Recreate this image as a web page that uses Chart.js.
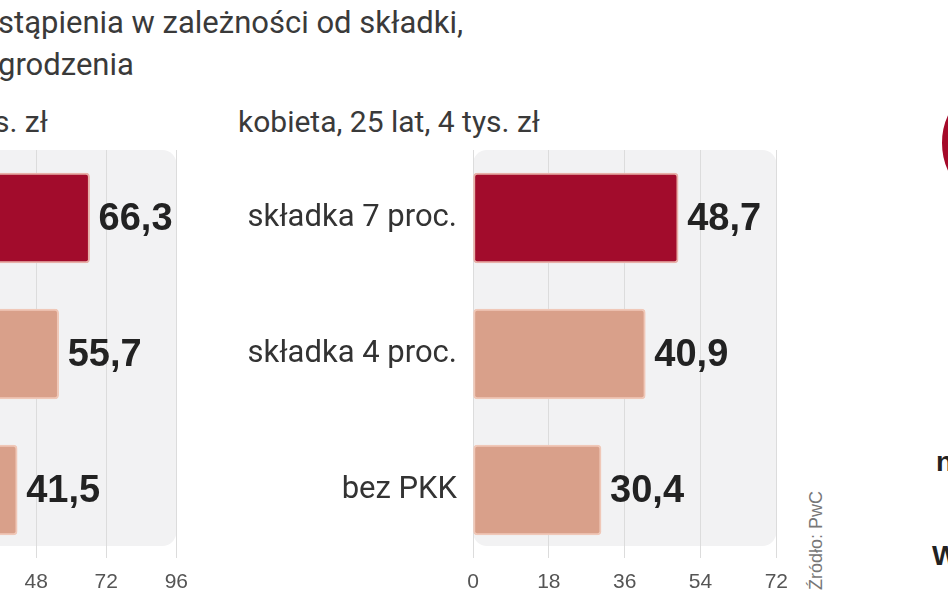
<!DOCTYPE html>
<html><head><meta charset="utf-8">
<script src="https://cdn.jsdelivr.net/npm/chart.js@4"></script>
<style>
body{margin:0;width:948px;height:593px;overflow:hidden;background:#fff;position:relative;font-family:"Liberation Sans Narrow",Roboto,sans-serif;color:#333}
.t{position:absolute;white-space:nowrap;font-size:30px;color:#3a3a3a}
canvas{position:absolute}
</style></head><body>
<div class="t" style="left:-2px;top:4px;font-size:31px">stąpienia w zależności od składki,</div>
<div class="t" style="left:-2px;top:46px;font-size:31px">grodzenia</div>
<div class="t" style="left:-6px;top:104px">s. zł</div>
<div class="t" style="left:238px;top:104px">kobieta, 25 lat, 4 tys. zł</div>
<div style="position:absolute;left:942px;top:78px;width:130px;height:130px;border-radius:50%;border:7px solid #a50a2a;box-sizing:border-box"></div>
<div class="t" style="left:936px;top:446px;font-weight:bold;font-family:'Liberation Sans',sans-serif;font-size:28px;color:#222">n</div>
<div class="t" style="left:932px;top:540px;font-weight:bold;font-family:'Liberation Sans',sans-serif;font-size:28px;color:#222">W</div>
<div class="t" style="left:806px;top:590px;transform:rotate(-90deg);transform-origin:0 0;font-family:'Liberation Sans',sans-serif;font-size:18px;color:#777">Źródło: PwC</div>
<div style="position:absolute;left:-300px;top:0;width:500px;height:593px"><canvas id="c1"></canvas></div>
<div style="position:absolute;left:200px;top:0;width:600px;height:593px"><canvas id="c2"></canvas></div>
<script>
const categories=["składka 7 proc.","składka 4 proc.","bez PKK"];
const valuesLeft=[66.3,55.7,41.5];
const valuesRight=[48.7,40.9,30.4];
const ticksLeft=[0,24,48,72,96];
const ticksRight=[0,18,36,54,72];
const colors=["#a20c2c","#d9a08a","#d9a08a"];
const borders=["#e8b0a8","#f0c8b8","#f0c8b8"];

const boxPlugin={id:'box',beforeDraw(ch){const a=ch.chartArea,c=ch.ctx;c.save();c.fillStyle='#f2f2f3';c.beginPath();c.roundRect(a.left,a.top,a.right-a.left,a.bottom-a.top-12,14);c.fill();c.restore();}};
const valPlugin={id:'vals',afterDatasetsDraw(ch){const c=ch.ctx;const ds=ch.data.datasets[0];ch.getDatasetMeta(0).data.forEach((b,i)=>{c.save();c.font='bold 38px "Liberation Sans Narrow", sans-serif';c.fillStyle='#222';c.textBaseline='middle';c.fillText(ds.data[i].toFixed(1).replace('.',','),b.x+9,b.y+2);c.restore();});}};

function make(id,vals,ticks,max,leftW,showY,padL,padR){
 new Chart(document.getElementById(id),{type:'bar',
  data:{labels:categories,datasets:[{data:vals,backgroundColor:colors,borderColor:borders,borderWidth:2,borderRadius:4,borderSkipped:false,barThickness:90}]},
  options:{indexAxis:'y',responsive:true,maintainAspectRatio:false,animation:false,
   layout:{padding:{top:150,left:padL,right:padR,bottom:0}},
   plugins:{legend:{display:false},tooltip:{enabled:false}},
   scales:{
    x:{min:0,max:max,afterBuildTicks(s){s.ticks=ticks.map(v=>({value:v}));},
       grid:{color:'#dcdcdc',lineWidth:1,drawTicks:false},border:{display:false},
       ticks:{color:'#555',font:{size:21,family:'"Liberation Sans Narrow", sans-serif'},padding:12},
       afterFit(s){s.height=35;}},
    y:{display:showY,grid:{display:false},border:{display:false},
       ticks:{color:'#333',font:{size:31,family:'"Liberation Sans Narrow", Roboto, sans-serif'},padding:8},
       afterFit(s){s.width=leftW;}}
   }},plugins:[boxPlugin,valPlugin]});
}
make('c1',valuesLeft,ticksLeft,96,0,false,196,4);
make('c2',valuesRight,ticksRight,72,273,true,0,10);
</script></body></html>
